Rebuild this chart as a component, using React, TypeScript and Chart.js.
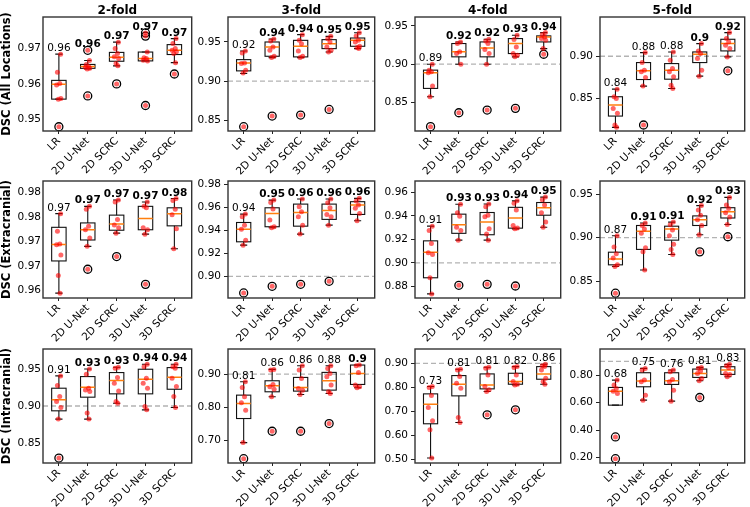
import React, { useEffect, useRef } from 'react';
import { Chart, registerables } from 'chart.js';

Chart.register(...registerables);

const FONT = '"DejaVu Sans", sans-serif';
Chart.defaults.font.family = FONT;
Chart.defaults.color = '#000';

// ---------- data ----------
const CATEGORIES = ['LR', '2D U-Net', '2D SCRC', '3D U-Net', '3D SCRC'];
const FOLDS = ['2-fold', '3-fold', '4-fold', '5-fold'];
const REGIONS = ['DSC (All Locations)', 'DSC (Extracranial)', 'DSC (Intracranial)'];
const REFERENCE_LINE = 0.9;

// panels are row-major: All Locations (2..5-fold), Extracranial (2..5-fold), Intracranial (2..5-fold)
const Y_MIN = [0.9467, 0.836, 0.8126, 0.8114, 0.9584, 0.8811, 0.8701, 0.8308, 0.8231, 0.6313, 0.4862, 0.161];
const Y_MAX = [0.9789, 0.982, 0.9617, 0.9465, 0.9824, 0.9829, 0.9696, 0.9649, 0.9769, 0.9758, 0.9593, 0.9895];

const Y_TICKS = [
  [0.95, 0.96, 0.97],
  [0.85, 0.9, 0.95],
  [0.85, 0.9, 0.95],
  [0.85, 0.9],
  [0.96, 0.965, 0.97, 0.975, 0.98],
  [0.9, 0.92, 0.94, 0.96, 0.98],
  [0.88, 0.9, 0.92, 0.94, 0.96],
  [0.85, 0.9, 0.95],
  [0.85, 0.9, 0.95],
  [0.7, 0.8, 0.9],
  [0.5, 0.6, 0.7, 0.8, 0.9],
  [0.2, 0.4, 0.6, 0.8],
];
const Y_TICK_LABELS: (string[] | null)[] = [
  null, null, null, null,
  ['0.96', '0.97', '0.97', '0.98', '0.98'],
  null, null, null, null, null, null, null,
];

const WHISKER_LOW = [
  [0.9557, 0.9642, 0.9651, 0.9665, 0.966],
  [0.9096, 0.93, 0.93, 0.9372, 0.9415],
  [0.8574, 0.9, 0.9, 0.9096, 0.9204],
  [0.8157, 0.8646, 0.8618, 0.8764, 0.8992],
  [0.9594, 0.969, 0.9717, 0.9715, 0.9685],
  [0.9271, 0.9422, 0.9367, 0.9445, 0.9483],
  [0.8736, 0.9193, 0.9193, 0.9289, 0.9303],
  [0.8669, 0.8629, 0.8806, 0.9033, 0.9151],
  [0.8823, 0.8823, 0.9038, 0.8948, 0.898],
  [0.6929, 0.8313, 0.8384, 0.8414, 0.8586],
  [0.5069, 0.6545, 0.7828, 0.8103, 0.8131],
  [0.5813, 0.6178, 0.6105, 0.7587, 0.7878],
];
const Q1 = [
  [0.9557, 0.9644, 0.9664, 0.9665, 0.9683],
  [0.913, 0.9317, 0.9309, 0.9415, 0.9445],
  [0.8683, 0.9096, 0.9096, 0.9139, 0.9291],
  [0.8291, 0.8724, 0.8728, 0.8925, 0.9063],
  [0.966, 0.9703, 0.9723, 0.9724, 0.9732],
  [0.93, 0.9431, 0.9436, 0.9495, 0.9538],
  [0.8873, 0.9251, 0.9239, 0.9295, 0.9405],
  [0.8688, 0.8865, 0.8971, 0.9139, 0.9225],
  [0.8935, 0.9119, 0.9164, 0.9164, 0.9226],
  [0.7657, 0.8465, 0.8485, 0.8515, 0.8687],
  [0.649, 0.7648, 0.7938, 0.8131, 0.8338],
  [0.5813, 0.715, 0.732, 0.783, 0.8049],
];
const MEDIAN = [
  [0.9599, 0.9649, 0.9675, 0.9672, 0.9695],
  [0.9232, 0.9436, 0.9445, 0.9479, 0.9521],
  [0.8887, 0.9161, 0.9213, 0.927, 0.9357],
  [0.8421, 0.8827, 0.8835, 0.9024, 0.915],
  [0.9694, 0.9724, 0.9736, 0.9747, 0.9757],
  [0.941, 0.9547, 0.9556, 0.9573, 0.962],
  [0.9091, 0.9324, 0.9347, 0.9382, 0.9469],
  [0.8755, 0.9073, 0.91, 0.9206, 0.9296],
  [0.9083, 0.9253, 0.9343, 0.9361, 0.9388],
  [0.8111, 0.8646, 0.8596, 0.8798, 0.902],
  [0.7303, 0.8131, 0.8103, 0.8241, 0.8559],
  [0.6833, 0.7563, 0.7587, 0.8122, 0.8365],
];
const Q3 = [
  [0.961, 0.9655, 0.9689, 0.969, 0.9711],
  [0.9274, 0.95, 0.9521, 0.953, 0.9551],
  [0.8922, 0.927, 0.9291, 0.9335, 0.937],
  [0.852, 0.8925, 0.8913, 0.9051, 0.9201],
  [0.9729, 0.9738, 0.9754, 0.9772, 0.9769],
  [0.9468, 0.9596, 0.9628, 0.9628, 0.9649],
  [0.9187, 0.9414, 0.9428, 0.9472, 0.9513],
  [0.8833, 0.9139, 0.9131, 0.9249, 0.9343],
  [0.924, 0.9397, 0.9451, 0.9496, 0.9518],
  [0.8364, 0.8798, 0.8899, 0.9051, 0.9273],
  [0.7731, 0.849, 0.8559, 0.8586, 0.8862],
  [0.7101, 0.817, 0.817, 0.8437, 0.8608],
];
const WHISKER_HIGH = [
  [0.9684, 0.9666, 0.9718, 0.969, 0.9728],
  [0.9385, 0.9538, 0.9594, 0.9572, 0.9619],
  [0.9, 0.9291, 0.9326, 0.9378, 0.9413],
  [0.861, 0.9043, 0.9051, 0.915, 0.928],
  [0.9757, 0.9772, 0.9785, 0.9781, 0.9788],
  [0.9541, 0.9663, 0.9672, 0.9672, 0.9678],
  [0.9312, 0.9498, 0.9501, 0.9527, 0.9559],
  [0.9022, 0.9167, 0.9178, 0.9367, 0.9461],
  [0.9406, 0.95, 0.9522, 0.9563, 0.9563],
  [0.8768, 0.9141, 0.9253, 0.9253, 0.9273],
  [0.8034, 0.8752, 0.8834, 0.8862, 0.8959],
  [0.7635, 0.8486, 0.8365, 0.8559, 0.8778],
];
const OUTLIERS = [
  [[0.9479], [0.9695, 0.9566], [0.96], [0.9744, 0.9735, 0.9539], [0.9628]],
  [[0.8415], [0.8551], [0.8564], [0.8636], []],
  [[0.8183], [0.8365], [0.84], [0.8422], [0.913]],
  [[], [0.8185], [], [], [0.8827]],
  [[], [0.9643], [0.9669], [0.9612], []],
  [[0.8855], [0.8913], [0.893], [0.8956], []],
  [[], [0.8809], [0.8817], [0.8803], []],
  [[0.8363], [], [], [0.8837], [0.901]],
  [[0.8298], [], [], [], []],
  [[0.6444], [0.7273], [0.7273], [0.7505], []],
  [[], [], [0.6862], [0.7069], []],
  [[0.3504, 0.1925], [], [], [0.6372], []],
];
const POINTS = [
  [
    [0.9684, 0.9633, 0.9601, 0.9597, 0.9559, 0.9557],
    [0.9666, 0.9655, 0.9649, 0.9647, 0.9644, 0.9642],
    [0.9718, 0.97, 0.9686, 0.9677, 0.9672, 0.9658, 0.9651],
    [0.969, 0.9674, 0.9672, 0.9667, 0.9665],
    [0.9728, 0.9714, 0.97, 0.9695, 0.9691, 0.9686, 0.966],
  ],
  [
    [0.9385, 0.936, 0.9232, 0.9223, 0.9138, 0.9104],
    [0.9538, 0.9513, 0.9436, 0.9394, 0.9317, 0.93],
    [0.9594, 0.9521, 0.9479, 0.9385, 0.9317, 0.93],
    [0.9572, 0.9543, 0.95, 0.9436, 0.9394, 0.9372],
    [0.9619, 0.9577, 0.9521, 0.95, 0.9445, 0.9428, 0.9415],
  ],
  [
    [0.9, 0.8922, 0.89, 0.8887, 0.8713, 0.8574],
    [0.9291, 0.927, 0.9161, 0.9139, 0.9],
    [0.9326, 0.9304, 0.927, 0.9191, 0.9139, 0.9],
    [0.9378, 0.9322, 0.9226, 0.9139, 0.9117, 0.9096],
    [0.9413, 0.9387, 0.9357, 0.9335, 0.9313, 0.9204],
  ],
  [
    [0.861, 0.852, 0.85, 0.8382, 0.8323, 0.8185, 0.8157],
    [0.9043, 0.8925, 0.8835, 0.8815, 0.8748, 0.8646],
    [0.9051, 0.8953, 0.8854, 0.8815, 0.8756, 0.8657, 0.8618],
    [0.915, 0.9063, 0.9031, 0.8972, 0.8835, 0.8764],
    [0.928, 0.9209, 0.917, 0.913, 0.9091, 0.8992],
  ],
  [
    [0.9757, 0.9721, 0.9695, 0.9693, 0.9672, 0.963, 0.9594],
    [0.9772, 0.9766, 0.9731, 0.9724, 0.9707, 0.969],
    [0.9785, 0.9781, 0.9745, 0.9734, 0.9728, 0.9717],
    [0.9781, 0.9772, 0.9769, 0.9728, 0.9724, 0.9715],
    [0.9788, 0.9784, 0.9766, 0.9755, 0.9726, 0.9685],
  ],
  [
    [0.9541, 0.9518, 0.9445, 0.941, 0.9314, 0.9271],
    [0.9663, 0.9643, 0.9585, 0.9489, 0.9431, 0.9422],
    [0.9672, 0.9605, 0.9561, 0.9518, 0.9445, 0.9367],
    [0.9672, 0.964, 0.9596, 0.9538, 0.9518, 0.9445],
    [0.9678, 0.9655, 0.962, 0.9591, 0.9547, 0.9483],
  ],
  [
    [0.9312, 0.9274, 0.9164, 0.9085, 0.9071, 0.8873, 0.8736],
    [0.9498, 0.9425, 0.9396, 0.9303, 0.9274, 0.9193],
    [0.9501, 0.9478, 0.9405, 0.9391, 0.9289, 0.9245, 0.9193],
    [0.9527, 0.9507, 0.9449, 0.9318, 0.9297, 0.9289],
    [0.9559, 0.9536, 0.9492, 0.9425, 0.9347, 0.9303],
  ],
  [
    [0.9022, 0.8892, 0.8814, 0.8767, 0.8688, 0.8669],
    [0.9167, 0.9139, 0.91, 0.9049, 0.8884, 0.8837, 0.8629],
    [0.9178, 0.9147, 0.9088, 0.9022, 0.8924, 0.8865, 0.8806],
    [0.9367, 0.9316, 0.9257, 0.9206, 0.9139, 0.9033],
    [0.9461, 0.9375, 0.9335, 0.9284, 0.9237, 0.9151],
  ],
  [
    [0.9406, 0.9276, 0.9128, 0.9061, 0.898, 0.8823],
    [0.95, 0.9428, 0.924, 0.9217, 0.9195, 0.8904, 0.8823],
    [0.9522, 0.9509, 0.9383, 0.9307, 0.9204, 0.9061, 0.9038],
    [0.9563, 0.9531, 0.9374, 0.9307, 0.924, 0.8993, 0.8948],
    [0.9563, 0.9531, 0.9509, 0.9374, 0.9262, 0.9128, 0.898],
  ],
  [
    [0.8768, 0.8596, 0.8313, 0.8131, 0.7909, 0.6929],
    [0.9141, 0.9121, 0.8687, 0.8616, 0.8545, 0.8313],
    [0.9253, 0.9121, 0.8869, 0.8566, 0.8515, 0.8384],
    [0.9253, 0.9172, 0.902, 0.8919, 0.8667, 0.8465, 0.8414],
    [0.9273, 0.9253, 0.9051, 0.8667, 0.8616, 0.8586],
  ],
  [
    [0.8034, 0.7993, 0.7662, 0.7166, 0.6614, 0.6241, 0.5069],
    [0.8752, 0.8724, 0.8448, 0.8172, 0.7966, 0.6752, 0.6545],
    [0.8834, 0.8793, 0.8517, 0.8034, 0.7897, 0.7828],
    [0.8862, 0.8821, 0.8517, 0.8241, 0.8131, 0.8103],
    [0.8959, 0.8903, 0.8862, 0.8724, 0.8379, 0.8241, 0.8131],
  ],
  [
    [0.7635, 0.7271, 0.7028, 0.6833, 0.6663],
    [0.8486, 0.8365, 0.7635, 0.7514, 0.6542, 0.6178],
    [0.8365, 0.8243, 0.7684, 0.7514, 0.6906, 0.6105],
    [0.8559, 0.8486, 0.8292, 0.8122, 0.7757, 0.7587],
    [0.8778, 0.868, 0.8535, 0.8122, 0.8049, 0.7878],
  ],
];
const MEANS = [
  [0.96, 0.96, 0.97, 0.97, 0.97],
  [0.92, 0.94, 0.94, 0.95, 0.95],
  [0.89, 0.92, 0.92, 0.93, 0.94],
  [0.84, 0.88, 0.88, 0.9, 0.92],
  [0.97, 0.97, 0.97, 0.97, 0.98],
  [0.94, 0.95, 0.96, 0.96, 0.96],
  [0.91, 0.93, 0.93, 0.94, 0.95],
  [0.87, 0.91, 0.91, 0.92, 0.93],
  [0.91, 0.93, 0.93, 0.94, 0.94],
  [0.81, 0.86, 0.86, 0.88, 0.9],
  [0.73, 0.81, 0.81, 0.82, 0.86],
  [0.68, 0.75, 0.76, 0.81, 0.83],
];
const BOLD = [
  [0, 1, 1, 1, 1],
  [0, 1, 1, 1, 1],
  [0, 1, 1, 1, 1],
  [0, 0, 0, 1, 1],
  [0, 1, 1, 1, 1],
  [0, 1, 1, 1, 1],
  [0, 1, 1, 1, 1],
  [0, 1, 1, 1, 1],
  [0, 1, 1, 1, 1],
  [0, 0, 0, 0, 1],
  [0, 0, 0, 0, 0],
  [0, 0, 0, 0, 0],
];

// ---------- layout / style ----------
const PLOT_LEFT = [43, 228, 415, 600];
const PLOT_RIGHT = [195, 378, 564, 748];
const PLOT_TOP = [17, 181, 349];
const PLOT_BOTTOM = [131, 298, 463];
const TOP_PAD = 17;
const RIGHT_PAD = 2;
const X_AXIS_H = 46;
const X_MIN = 0.45;
const X_MAX = 5.6;
const BOX_WIDTH = 0.5;
const CAP_WIDTH = 0.25;
const JITTER = [0.06, -0.05, 0.03, -0.08, 0.07, -0.02, 0.04, -0.06];
const TICK_FONT = 10.5;

function hline(ctx: CanvasRenderingContext2D, x1: number, x2: number, y: number) {
  ctx.beginPath();
  ctx.moveTo(x1, y);
  ctx.lineTo(x2, y);
  ctx.stroke();
}
function vline(ctx: CanvasRenderingContext2D, x: number, y1: number, y2: number) {
  ctx.beginPath();
  ctx.moveTo(x, y1);
  ctx.lineTo(x, y2);
  ctx.stroke();
}

function panelPlugin(idx: number) {
  const r = Math.floor(idx / 4);
  const c = idx % 4;
  return {
    id: 'panel' + idx,
    beforeDatasetsDraw(chart: any) {
      const { ctx, chartArea: a } = chart;
      const x = chart.scales.x;
      const y = chart.scales.y;
      ctx.save();
      ctx.beginPath();
      ctx.rect(a.left, a.top, a.right - a.left, a.bottom - a.top);
      ctx.clip();
      // reference line
      const ry = y.getPixelForValue(REFERENCE_LINE);
      ctx.strokeStyle = '#b3b3b3';
      ctx.lineWidth = 1.3;
      ctx.setLineDash([5, 3]);
      hline(ctx, a.left, a.right, ry);
      ctx.setLineDash([]);
      for (let j = 0; j < CATEGORIES.length; j++) {
        const cx = x.getPixelForValue(j + 1);
        const half = x.getPixelForValue(j + 1 + BOX_WIDTH / 2) - cx;
        const cap = x.getPixelForValue(j + 1 + CAP_WIDTH / 2) - cx;
        const yq1 = y.getPixelForValue(Q1[idx][j]);
        const yq3 = y.getPixelForValue(Q3[idx][j]);
        const ylo = y.getPixelForValue(WHISKER_LOW[idx][j]);
        const yhi = y.getPixelForValue(WHISKER_HIGH[idx][j]);
        const ymed = y.getPixelForValue(MEDIAN[idx][j]);
        ctx.strokeStyle = '#111';
        ctx.lineWidth = 1.1;
        ctx.strokeRect(cx - half, yq3, half * 2, yq1 - yq3);
        vline(ctx, cx, yq3, yhi);
        vline(ctx, cx, yq1, ylo);
        hline(ctx, cx - cap, cx + cap, yhi);
        hline(ctx, cx - cap, cx + cap, ylo);
        ctx.strokeStyle = '#ff7f0e';
        ctx.lineWidth = 1.5;
        hline(ctx, cx - half, cx + half, ymed);
      }
      ctx.restore();
    },
    afterDatasetsDraw(chart: any) {
      const { ctx, chartArea: a } = chart;
      const x = chart.scales.x;
      const y = chart.scales.y;
      ctx.save();
      ctx.fillStyle = '#000';
      ctx.textAlign = 'center';
      ctx.textBaseline = 'alphabetic';
      for (let j = 0; j < CATEGORIES.length; j++) {
        const top = Math.max(WHISKER_HIGH[idx][j], ...OUTLIERS[idx][j], ...POINTS[idx][j]);
        const cx = x.getPixelForValue(j + 1);
        const py = y.getPixelForValue(top);
        ctx.font = `${BOLD[idx][j] ? 'bold ' : ''}${TICK_FONT}px ${FONT}`;
        ctx.fillText(String(MEANS[idx][j]), cx, py - 3);
      }
      ctx.strokeStyle = '#333';
      ctx.lineWidth = 1.4;
      ctx.strokeRect(a.left, a.top, a.right - a.left, a.bottom - a.top);
      if (r === 0) {
        ctx.font = `bold 12px ${FONT}`;
        ctx.fillText(FOLDS[c], (a.left + a.right) / 2, a.top - 3);
      }
      ctx.restore();
    },
  };
}

function Panel({ idx }: { idx: number }) {
  const ref = useRef<HTMLCanvasElement>(null);
  const r = Math.floor(idx / 4);
  const c = idx % 4;
  const left = c === 0 ? 0 : PLOT_LEFT[c] - 34;
  const yW = PLOT_LEFT[c] - left;
  const plotW = PLOT_RIGHT[c] - PLOT_LEFT[c];
  const plotH = PLOT_BOTTOM[r] - PLOT_TOP[r];
  const width = yW + plotW + RIGHT_PAD;
  const height = TOP_PAD + plotH + X_AXIS_H;
  const top = PLOT_TOP[r] - TOP_PAD;

  useEffect(() => {
    if (!ref.current) return;
    const pts: { x: number; y: number }[] = [];
    const outs: { x: number; y: number }[] = [];
    for (let j = 0; j < CATEGORIES.length; j++) {
      POINTS[idx][j].forEach((v, k) => pts.push({ x: j + 1 + JITTER[k % JITTER.length], y: v }));
      OUTLIERS[idx][j].forEach((v) => {
        outs.push({ x: j + 1, y: v });
        pts.push({ x: j + 1, y: v });
      });
    }
    const firstCol = c === 0;
    const chart = new Chart(ref.current, {
      type: 'scatter',
      data: {
        datasets: [
          {
            data: pts,
            pointRadius: 2.5,
            pointBackgroundColor: 'rgba(255,0,0,0.6)',
            pointBorderWidth: 0,
            order: 1,
          },
          {
            data: outs,
            pointRadius: 4,
            pointBackgroundColor: 'rgba(255,255,255,0)',
            pointBorderColor: '#000',
            pointBorderWidth: 1.3,
            order: 2,
          },
        ],
      },
      options: {
        responsive: false,
        animation: false,
        events: [],
        layout: { padding: { top: TOP_PAD, right: RIGHT_PAD, left: 0, bottom: 0 } },
        plugins: { legend: { display: false }, tooltip: { enabled: false }, title: { display: false } },
        scales: {
          x: {
            type: 'linear',
            min: X_MIN,
            max: X_MAX,
            afterBuildTicks: (s: any) => {
              s.ticks = CATEGORIES.map((_, j) => ({ value: j + 1 }));
            },
            afterFit: (s: any) => {
              s.height = X_AXIS_H;
            },
            ticks: {
              callback: (v: any) => CATEGORIES[Math.round(Number(v)) - 1] ?? '',
              minRotation: 45,
              maxRotation: 45,
              autoSkip: false,
              font: { size: TICK_FONT, family: FONT },
              color: '#000',
              padding: 1,
            },
            grid: { drawOnChartArea: false, drawTicks: true, tickLength: 3, color: '#222' },
            border: { display: false },
          },
          y: {
            type: 'linear',
            min: Y_MIN[idx],
            max: Y_MAX[idx],
            afterBuildTicks: (s: any) => {
              s.ticks = Y_TICKS[idx].map((v) => ({ value: v }));
            },
            afterFit: (s: any) => {
              s.width = yW;
            },
            ticks: {
              callback: (v: any, i: number) => {
                const labels = Y_TICK_LABELS[idx];
                return labels ? labels[i] : Number(v).toFixed(2);
              },
              font: { size: TICK_FONT, family: FONT },
              color: '#000',
              padding: firstCol ? 2 : 3,
            },
            grid: {
              drawOnChartArea: false,
              drawTicks: !firstCol,
              tickLength: 4,
              color: '#222',
            },
            border: { display: false },
            title: {
              display: firstCol,
              text: REGIONS[r],
              font: { size: 11.5, weight: 'bold', family: FONT },
              color: '#000',
              padding: { top: 0, bottom: 0 },
            },
          },
        },
      },
      plugins: [panelPlugin(idx)],
    } as any);
    return () => chart.destroy();
  }, [idx]);

  return (
    <canvas
      ref={ref}
      width={width}
      height={height}
      style={{ position: 'absolute', left, top, width, height }}
    />
  );
}

export default function App() {
  const panels = [];
  for (let i = 0; i < 12; i++) panels.push(<Panel key={i} idx={i} />);
  return (
    <div style={{ position: 'absolute', left: 0, top: 0, width: 750, height: 507, background: '#fff', overflow: 'hidden' }}>
      {panels}
    </div>
  );
}
